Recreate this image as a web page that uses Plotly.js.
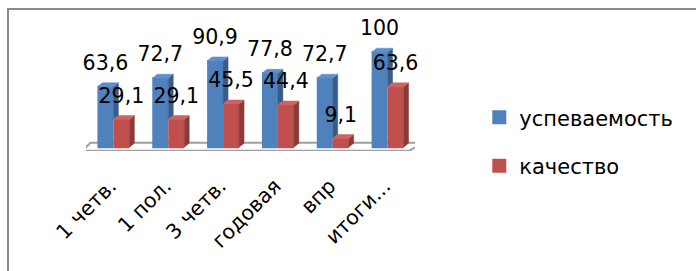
<!DOCTYPE html>
<html>
<head>
<meta charset="utf-8">
<script src="https://cdn.plot.ly/plotly-3.0.1.min.js"></script>
<style>
html,body{margin:0;padding:0;background:#fff;overflow:hidden;}
#wrap{position:relative;width:696px;height:271px;}
#chart{position:absolute;left:0;top:0;width:696px;height:271px;}
#frame{position:absolute;left:7px;top:8px;width:800px;height:400px;border-left:2px solid #8a8a8a;border-top:2px solid #8a8a8a;pointer-events:none;}
</style>
</head>
<body>
<div id="wrap"><div id="chart"></div><div id="frame"></div></div>
<script>
// ---- data ----
const categories = ["1 четв.", "1 пол.", "3 четв.", "годовая", "впр", "итоги..."];
const seriesNames = ["успеваемость", "качество"];
const uspevaemost = [63.6, 72.7, 90.9, 77.8, 72.7, 100];
const kachestvo = [29.1, 29.1, 45.5, 44.4, 9.1, 63.6];
const valueLabels1 = ["63,6", "72,7", "90,9", "77,8", "72,7", "100"];
const valueLabels2 = ["29,1", "29,1", "45,5", "44,4", "9,1", "63,6"];

// ---- geometry / style ----
const W = 696, H = 271;
const pxScale = 0.95;                 // px per value unit
const xRange = [-0.5, 5.5], yRange = [-4, 135];
const mL = 85.5, mR = 280.5, mB = 120.2;
const mT = H - mB - (yRange[1] - yRange[0]) * pxScale;
const pxPerX = (W - mL - mR) / (xRange[1] - xRange[0]);
const pxPerY = pxScale;
const bw = 0.255;             // bar width (category units, plus 1px outline each side)
const dx = 5 / pxPerX;        // 3D depth offset
const dy = 4 / pxPerY;
const labOff = 22 / pxPerY;
const FONT = "DejaVu Sans";
const colBlue = {front: "#4F81BD", side: "#385D8A", top: "#5F8FCB"};
const colRed = {front: "#C0504D", side: "#8C3A38", top: "#CD6461"};

const idx = categories.map((c, i) => i);
const edge = 1 / pxPerX;      // outline half-width in x units

function faces(vals, x0fn, lowFn) {
  const side = {x: [], y: []}, top = {x: [], y: []};
  vals.forEach((v, i) => {
    const x0 = x0fn(i) - edge, x1 = x0fn(i) + bw + edge;
    const lo = lowFn(i);
    side.x.push(x1, x1 + dx, x1 + dx, x1, x1, null);
    side.y.push(lo, lo + dy, v + dy, v, lo, null);
    top.x.push(x0, x0 + dx, x1 + dx, x1, x0, null);
    top.y.push(v, v + dy, v + dy, v, v, null);
  });
  return {side, top};
}
const fb = faces(uspevaemost, i => i - bw - edge, i => Math.min(kachestvo[i], uspevaemost[i]));
const fr = faces(kachestvo, i => i + edge, i => 0);

function poly(p, color, name) {
  return {type: "scatter", mode: "lines", x: p.x, y: p.y, fill: "toself",
    fillcolor: color, line: {width: 0.5, color: color}, showlegend: false,
    hoverinfo: "skip", name: name};
}

const traces = [
  {type: "bar", name: seriesNames[0], x: idx, y: uspevaemost, width: bw, offset: -bw - edge,
   marker: {color: colBlue.front, line: {width: 2, color: colBlue.front}}, legendgroup: "a"},
  {type: "bar", name: seriesNames[1], x: idx, y: kachestvo, width: bw, offset: edge,
   marker: {color: colRed.front, line: {width: 2, color: colRed.front}}, legendgroup: "b"},
  poly(fb.side, colBlue.side, "bs"),
  poly(fb.top, colBlue.top, "bt"),
  poly(fr.side, colRed.side, "rs"),
  poly(fr.top, colRed.top, "rt"),
  {type: "scatter", mode: "text", x: idx.map(i => i - bw / 2 - edge), y: uspevaemost.map(v => v + labOff),
   text: valueLabels1, textposition: "middle center", textfont: {family: FONT, size: 20.5, color: "#000"},
   showlegend: false, hoverinfo: "skip", cliponaxis: false},
  {type: "scatter", mode: "text", x: idx.map(i => i + bw / 2 + edge), y: kachestvo.map(v => v + labOff),
   text: valueLabels2, textposition: "middle center", textfont: {family: FONT, size: 20.5, color: "#000"},
   showlegend: false, hoverinfo: "skip", cliponaxis: false}
];

// floor (axis plane)
const fy0 = -3.7, fy1 = 4.7;
const floorPath = `M ${-0.564},${fy0} L ${5.4},${fy0} L ${5.636},${fy1} L ${-0.418},${fy1} Z`;

const plotH = H - mT - mB;
const layout = {
  width: W, height: H,
  margin: {l: mL, r: mR, t: mT, b: mB, pad: 0},
  paper_bgcolor: "#fff", plot_bgcolor: "rgba(0,0,0,0)",
  font: {family: FONT, color: "#000"},
  barmode: "overlay",
  showlegend: true,
  legend: {x: (480 - mL) / (W - mL - mR), xanchor: "left",
    y: (H - mB - 97) / plotH, yanchor: "top",
    font: {family: FONT, size: 21, color: "#000"}, tracegroupgap: 18, itemwidth: 30,
    bgcolor: "rgba(0,0,0,0)", traceorder: "grouped"},
  xaxis: {range: xRange, tickmode: "array", tickvals: idx, ticktext: categories, tickangle: -45,
    tickfont: {family: FONT, size: 20.5, color: "#000"}, showgrid: false, zeroline: false,
    showline: false, ticks: "", ticklabelstandoff: 18, ticklabelshift: -3, fixedrange: true},
  yaxis: {range: yRange, showgrid: false, zeroline: false, showline: false, showticklabels: false,
    ticks: "", fixedrange: true},
  shapes: [{type: "path", xref: "x", yref: "y", path: floorPath, layer: "below",
    fillcolor: "#ffffff", line: {color: "#a0a0a0", width: 2}}]
};

Plotly.newPlot("chart", traces, layout, {staticPlot: true, displayModeBar: false});
</script>
</body>
</html>
